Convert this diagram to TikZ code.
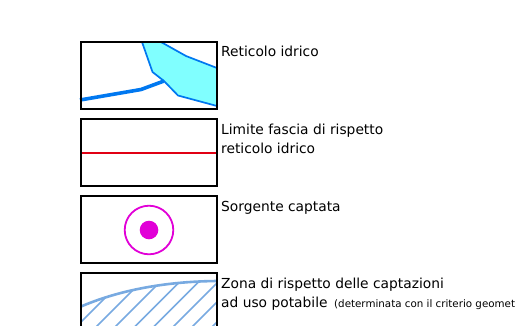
\documentclass[tikz,border=0pt]{standalone}
\usepackage{fontspec}
\setmainfont{DejaVu Sans}
\definecolor{streamblue}{RGB}{0,120,240}
\definecolor{watercyan}{RGB}{128,255,255}
\definecolor{rimred}{RGB}{225,0,20}
\definecolor{springmag}{RGB}{225,0,215}
\definecolor{hatchblue}{RGB}{120,170,225}
\tikzset{
  x=1pt,y=-1pt,
  framebox/.style={draw=black,line width=2pt},
  legendtext/.style={anchor=base west,inner sep=0pt,font=\fontsize{13.8}{16}\selectfont},
  smalltext/.style={anchor=base west,inner sep=0pt,font=\fontsize{10.3}{12}\selectfont},
  hatchline/.style={draw=hatchblue,line width=1.5pt}
}
\begin{document}
\begin{tikzpicture}
\useasboundingbox (0,0) rectangle (518,325);
\clip (0,0) rectangle (518,325);
\fill[white] (0,0) rectangle (518,325);
% box 1
\draw[fill=watercyan,draw=streamblue,line width=1.7pt,line join=round]
  (142,42) -- (152.5,72) -- (164,81) -- (178,95.5) -- (217,106) -- (217,68) -- (186,56) -- (161,42) -- cycle;
\draw[streamblue,line width=3.6pt] (80,100) -- (141,89.5) -- (164,81);
\draw[framebox] (81,42) rectangle (217,109);
% box 2
\draw[rimred,line width=1.6pt] (81,153) -- (217,153);
\draw[framebox] (81,119) rectangle (217,186);
% box 3
\draw[springmag,line width=1.8pt] (149,230) circle (24.3);
\fill[springmag] (149,230) circle (9.3);
\draw[framebox] (81,196) rectangle (217,263);
% box 4
\begin{scope}
  \clip (81,306.5) .. controls (115,292) and (160,281.5) .. (217,281) -- (217,330) -- (81,330) -- cycle;
  \foreach \s in {384,403,423,442,461.5,480.5,500,519,539,558,577}
    \draw[hatchline] (\s-60,60) -- (\s-340,340);
\end{scope}
\draw[hatchblue,line width=2.6pt] (81,306.5) .. controls (115,292) and (160,281.5) .. (217,281);
\draw[framebox] (81,273) rectangle (217,340);
% texts
\node[legendtext] (t1) at (221,56) {Reticolo idrico};
\node[legendtext] (t2a) at (221,134) {Limite fascia di rispetto};
\node[legendtext] (t2b) at (221,153) {reticolo idrico};
\node[legendtext] (t3) at (221,211) {Sorgente captata};
\node[legendtext] (t4a) at (221,288.5) {Zona di rispetto delle captazioni};
\node[legendtext] (t4b) at (221,307) {ad uso potabile};
\node[smalltext] (t4c) at (334,307) {(determinata con il criterio geomet};
\end{tikzpicture}
\end{document}
